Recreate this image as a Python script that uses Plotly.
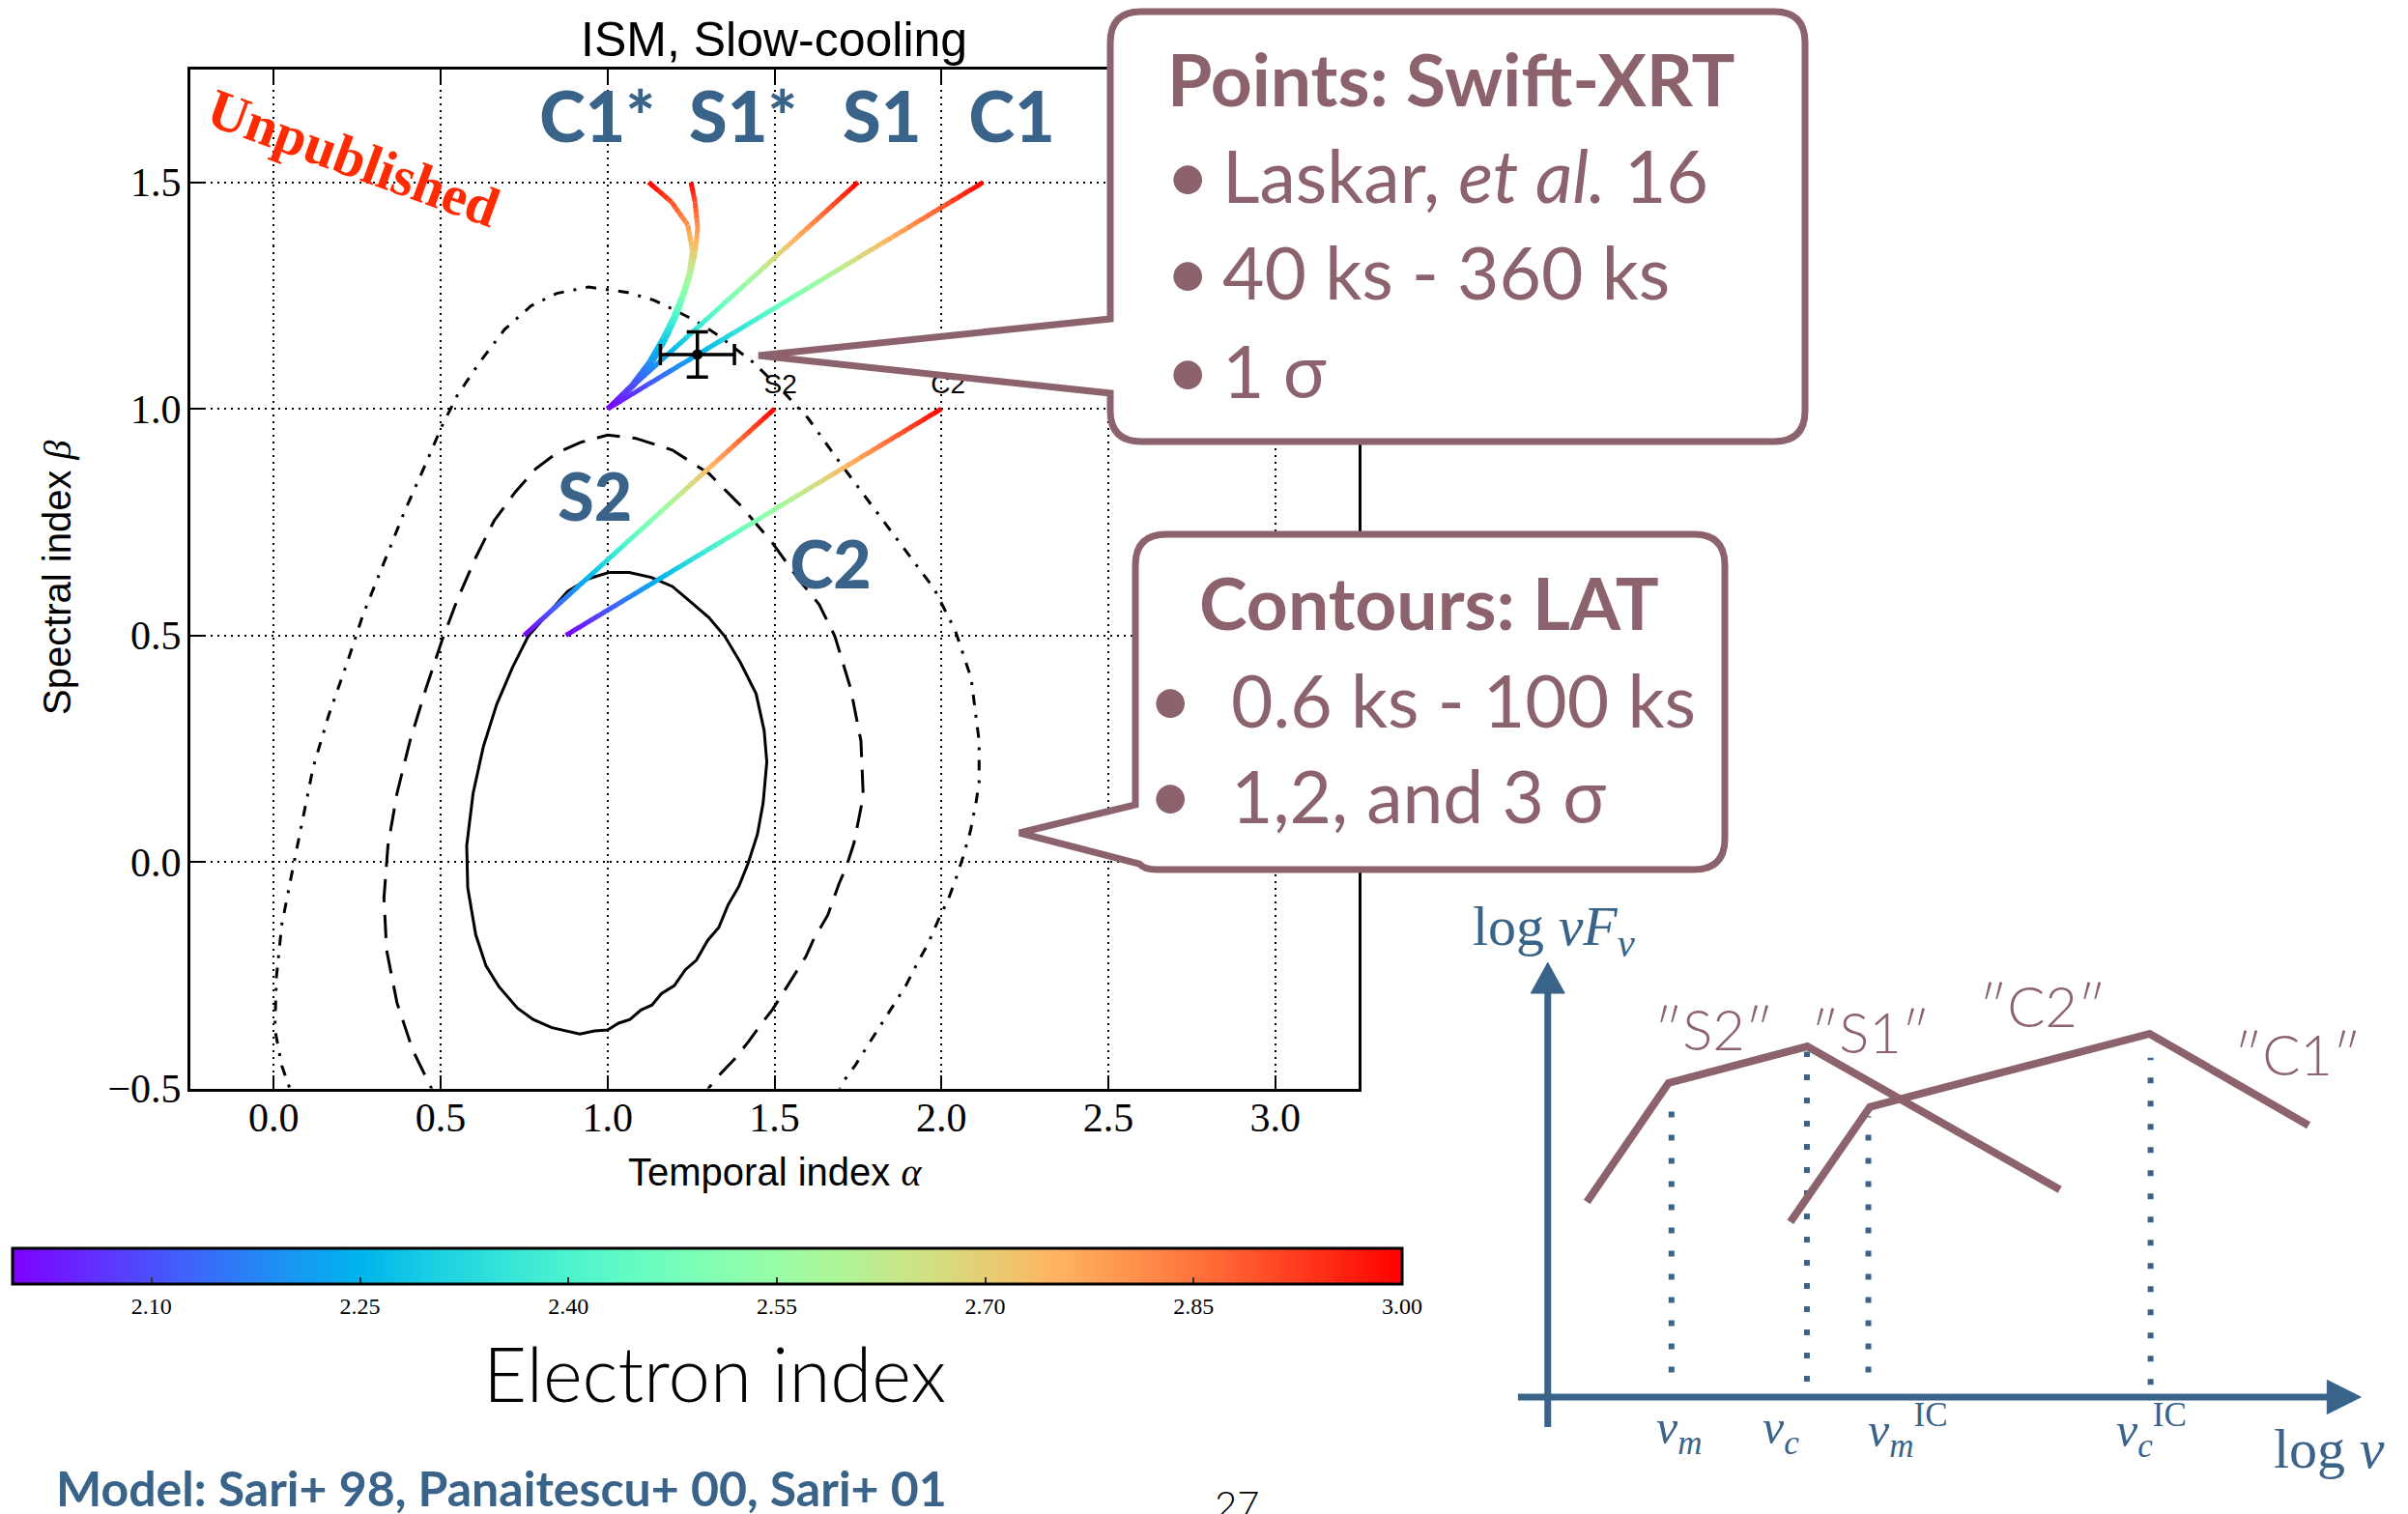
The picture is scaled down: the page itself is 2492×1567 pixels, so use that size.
import math
import plotly.graph_objects as go

W, H = 2492, 1567

# ---------------- data ----------------
# Closure-relation tracks: electron index p -> (temporal index alpha, spectral index beta)
p_line = [2.0, 3.0]
s2_alpha = [0.75, 1.50]
s2_beta = [0.50, 1.00]
c2_alpha = [0.875, 2.00]
c2_beta = [0.50, 1.00]
s1_alpha = [1.00, 1.75]
s1_beta = [1.00, 1.50]
c1_alpha = [1.00, 2.125]
c1_beta = [1.00, 1.50]

p_curve = [2.0, 2.1, 2.2, 2.3, 2.4, 2.5, 2.6, 2.7, 2.8, 2.9, 3.0]
s1s_alpha = [1.000, 1.080, 1.136, 1.175, 1.206, 1.227, 1.248, 1.262, 1.270, 1.262, 1.250]
s1s_beta = [1.000, 1.052, 1.105, 1.155, 1.204, 1.247, 1.296, 1.343, 1.399, 1.456, 1.500]
c1s_alpha = [1.000, 1.072, 1.126, 1.165, 1.198, 1.223, 1.245, 1.254, 1.240, 1.191, 1.123]
c1s_beta = [1.000, 1.052, 1.105, 1.155, 1.204, 1.250, 1.300, 1.350, 1.406, 1.457, 1.500]

# Swift-XRT measurement (1 sigma)
xrt_alpha, xrt_alpha_err = 1.269, 0.111
xrt_beta, xrt_beta_err = 1.120, 0.050

# LAT confidence contours
sig1_alpha = [1.005, 0.943, 0.880, 0.817, 0.762, 0.715, 0.668, 0.628, 0.597, 0.578, 0.581, 0.605,
              0.636, 0.675, 0.730, 0.777, 0.833, 0.917, 0.961, 1.000, 1.033, 1.067, 1.100, 1.133,
              1.161, 1.200, 1.233, 1.266, 1.300, 1.333, 1.361, 1.394, 1.421, 1.449, 1.466, 1.477,
              1.469, 1.445, 1.398, 1.351, 1.304, 1.241, 1.194, 1.131, 1.065, 1.005]
sig1_beta = [0.639, 0.625, 0.597, 0.544, 0.498, 0.429, 0.348, 0.255, 0.151, 0.036, -0.057, -0.161,
             -0.230, -0.276, -0.323, -0.348, -0.366, -0.380, -0.373, -0.371, -0.356, -0.348, -0.327, -0.316,
             -0.291, -0.273, -0.238, -0.217, -0.173, -0.145, -0.095, -0.053, -0.003, 0.061, 0.130, 0.221,
             0.290, 0.371, 0.440, 0.498, 0.539, 0.579, 0.608, 0.628, 0.639, 0.639]

sig2_alpha = [0.495, 0.471, 0.416, 0.369, 0.338, 0.330, 0.342, 0.369, 0.408, 0.456, 0.503, 0.550,
              0.605, 0.660, 0.723, 0.785, 0.848, 0.919, 1.000, 1.084, 1.194, 1.304, 1.398, 1.492,
              1.571, 1.634, 1.681, 1.728, 1.759, 1.766, 1.738, 1.716, 1.693, 1.660, 1.616, 1.594,
              1.555, 1.527, 1.494, 1.460, 1.422, 1.383, 1.338, 1.305, 1.270]
sig2_beta = [-0.542, -0.498, -0.415, -0.311, -0.195, -0.080, 0.036, 0.151, 0.267, 0.383, 0.487, 0.579,
             0.672, 0.753, 0.816, 0.868, 0.903, 0.926, 0.942, 0.935, 0.909, 0.857, 0.787, 0.706,
             0.625, 0.568, 0.498, 0.383, 0.267, 0.145, 0.041, -0.009, -0.049, -0.117, -0.173, -0.209,
             -0.255, -0.288, -0.326, -0.358, -0.397, -0.433, -0.468, -0.497, -0.540]

sig3_alpha = [0.055, 0.047, 0.024, 0.003, 0.008, 0.024, 0.055, 0.086, 0.118, 0.165, 0.220, 0.267,
              0.330, 0.393, 0.456, 0.503, 0.550, 0.613, 0.691, 0.770, 0.848, 0.943, 1.060, 1.138,
              1.201, 1.264, 1.332, 1.439, 1.530, 1.600, 1.697, 1.791, 1.885, 1.979, 2.042, 2.089,
              2.113, 2.113, 2.104, 2.087, 2.065, 2.046, 2.021, 1.991, 1.960, 1.929, 1.893, 1.860,
              1.821, 1.784, 1.743, 1.704, 1.680]
sig3_beta = [-0.542, -0.498, -0.450, -0.369, -0.253, -0.138, -0.022, 0.094, 0.209, 0.325, 0.440, 0.545,
             0.660, 0.776, 0.880, 0.961, 1.030, 1.099, 1.175, 1.227, 1.255, 1.269, 1.257, 1.240,
             1.218, 1.194, 1.162, 1.101, 1.035, 0.980, 0.880, 0.787, 0.695, 0.602, 0.510, 0.406,
             0.267, 0.175, 0.132, 0.068, 0.011, -0.032, -0.082, -0.128, -0.181, -0.222, -0.274, -0.313,
             -0.359, -0.400, -0.448, -0.487, -0.530]

# Axis ticks
x_ticks = [0.0, 0.5, 1.0, 1.5, 2.0, 2.5, 3.0]
y_ticks = [-0.5, 0.0, 0.5, 1.0, 1.5]
cbar_ticks = [2.10, 2.25, 2.40, 2.55, 2.70, 2.85, 3.00]

# Track labels
top_labels = ["C1*", "S1*", "S1", "C1"]
top_label_alpha = [0.969, 1.406, 1.822, 2.211]
top_label_beta = 1.627
mid_labels = ["S2", "C2"]
mid_label_alpha = [0.962, 1.668]
mid_label_beta = [0.790, 0.639]
end_labels = ["S2", "C2"]
end_label_alpha = [1.518, 2.020]
end_label_beta = [1.049, 1.049]

# Schematic spectrum (log nu, log nuFnu; arbitrary units)
spec1_nu = [0.255, 0.786, 1.690, 3.335]
spec1_f = [1.271, 2.045, 2.284, 1.351]
spec2_nu = [1.580, 2.098, 3.920, 4.955]
spec2_f = [1.140, 1.890, 2.366, 1.770]
break_nu = [0.806, 1.688, 2.088, 3.926]
break_top = [1.96, 2.25, 1.83, 2.21]
break_bottom = [0.16, 0.10, 0.16, 0.08]
break_labels = ["<i>ν</i><sub><i>m</i></sub>", "<i>ν</i><sub><i>c</i></sub>",
                "<i>ν</i><sub><i>m</i></sub><sup>IC</sup>", "<i>ν</i><sub><i>c</i></sub><sup>IC</sup>"]
break_label_nu = [0.855, 1.520, 2.340, 3.930]
regime_labels = ["″S2″", "″S1″", "″C2″", "″C1″"]
regime_label_nu = [1.08, 2.10, 3.22, 4.88]
regime_label_f = [2.40, 2.38, 2.55, 2.24]

# ---------------- styling ----------------
BLUE = "#3a6389"
MAUVE = "#8c636d"
SERIF = "Liberation Serif"
SANS = "Liberation Sans"
AV = "Lato"


def rainbow(t):
    t = min(max(t, 0.0), 1.0)
    r = min(1.0, abs(2 * t - 0.5))
    g = math.sin(math.pi * t)
    b = math.cos(math.pi * t / 2)
    return "rgb(%d,%d,%d)" % (round(255 * r), round(255 * g), round(255 * b))


def px(x):
    return x / W


def py(y):
    return 1 - y / H


fig = go.Figure()

# contours
for xs, ys, dash in [(sig3_alpha, sig3_beta, "11px,10px,3px,10px"),
                     (sig2_alpha, sig2_beta, "24px,13px"),
                     (sig1_alpha, sig1_beta, "solid")]:
    fig.add_trace(go.Scatter(x=xs, y=ys, mode="lines",
                             line=dict(color="black", width=3, dash=dash),
                             hoverinfo="skip", showlegend=False))


# colour-graded tracks: each stretch between listed p values is stroked in short pieces
def add_track(ps, xs, ys, pieces):
    for i in range(len(ps) - 1):
        for k in range(pieces):
            f0, f1 = k / pieces, min(1.0, (k + 1.15) / pieces)
            fm = (k + 0.5) / pieces
            x0 = xs[i] + (xs[i + 1] - xs[i]) * f0
            x1 = xs[i] + (xs[i + 1] - xs[i]) * f1
            y0 = ys[i] + (ys[i + 1] - ys[i]) * f0
            y1 = ys[i] + (ys[i + 1] - ys[i]) * f1
            pm = ps[i] + (ps[i + 1] - ps[i]) * fm
            fig.add_trace(go.Scatter(x=[x0, x1], y=[y0, y1], mode="lines",
                                     line=dict(color=rainbow(pm - 2.0), width=5),
                                     hoverinfo="skip", showlegend=False))


add_track(p_line, s2_alpha, s2_beta, 48)
add_track(p_line, c2_alpha, c2_beta, 60)
add_track(p_line, s1_alpha, s1_beta, 48)
add_track(p_line, c1_alpha, c1_beta, 60)
add_track(p_curve, c1s_alpha, c1s_beta, 5)
add_track(p_curve, s1s_alpha, s1s_beta, 5)

# XRT point
fig.add_trace(go.Scatter(
    x=[xrt_alpha], y=[xrt_beta], mode="markers",
    marker=dict(color="black", size=11),
    error_x=dict(type="data", array=[xrt_alpha_err], color="black", thickness=3.5, width=11),
    error_y=dict(type="data", array=[xrt_beta_err], color="black", thickness=3.5, width=11),
    hoverinfo="skip", showlegend=False))

# track labels
fig.add_trace(go.Scatter(x=top_label_alpha, y=[top_label_beta] * 4, mode="text",
                         text=top_labels,
                         textfont=dict(family=AV, size=72, color=BLUE, weight=900),
                         textposition="middle center", hoverinfo="skip", showlegend=False))
fig.add_trace(go.Scatter(x=mid_label_alpha, y=mid_label_beta, mode="text",
                         text=mid_labels,
                         textfont=dict(family=AV, size=68, color=BLUE, weight=900),
                         textposition="middle center", hoverinfo="skip", showlegend=False))
fig.add_trace(go.Scatter(x=end_label_alpha, y=end_label_beta, mode="text",
                         text=end_labels, textfont=dict(family=SANS, size=28, color="black"),
                         textposition="middle center", hoverinfo="skip", showlegend=False))

# colour bar carrier (points lie outside the visible range)
fig.add_trace(go.Scatter(
    x=[-5, -5], y=[-5, -5], mode="markers",
    marker=dict(color=[2.0, 3.0], cmin=2.0, cmax=3.0, size=1,
                colorscale=[[i / 20, rainbow(i / 20)] for i in range(21)],
                showscale=True,
                colorbar=dict(orientation="h", x=px(732), xanchor="center", xpad=0,
                              y=py(1292), yanchor="top", ypad=0,
                              lenmode="pixels", len=1438, thicknessmode="pixels", thickness=37,
                              outlinecolor="black", outlinewidth=3,
                              tickmode="array", tickvals=cbar_ticks,
                              ticktext=["%.2f" % v for v in cbar_ticks],
                              ticks="inside", ticklen=8, tickwidth=1.5, tickcolor="#333",
                              tickfont=dict(family=SERIF, size=24, color="black"))),
    hoverinfo="skip", showlegend=False))

# ---------------- schematic spectrum ----------------
for nu, top, bot in zip(break_nu, break_top, break_bottom):
    fig.add_trace(go.Scatter(x=[nu, nu], y=[bot, top], mode="lines", xaxis="x2", yaxis="y2",
                             line=dict(color=BLUE, width=6, dash="6px,18px"),
                             hoverinfo="skip", showlegend=False))
for xs, ys in [(spec1_nu, spec1_f), (spec2_nu, spec2_f)]:
    fig.add_trace(go.Scatter(x=xs, y=ys, mode="lines", xaxis="x2", yaxis="y2",
                             line=dict(color=MAUVE, width=8),
                             hoverinfo="skip", showlegend=False))
# axes with arrow heads
fig.add_trace(go.Scatter(x=[0, 0], y=[-0.196, 2.66], mode="lines", xaxis="x2", yaxis="y2",
                         line=dict(color=BLUE, width=7), hoverinfo="skip", showlegend=False))
fig.add_trace(go.Scatter(x=[-0.194, 5.10], y=[0, 0], mode="lines", xaxis="x2", yaxis="y2",
                         line=dict(color=BLUE, width=7), hoverinfo="skip", showlegend=False))
fig.add_trace(go.Scatter(x=[-0.11, 0.11, 0, -0.11], y=[2.63, 2.63, 2.83, 2.63], mode="lines",
                         fill="toself", fillcolor=BLUE, xaxis="x2", yaxis="y2",
                         line=dict(color=BLUE, width=1), hoverinfo="skip", showlegend=False))
fig.add_trace(go.Scatter(x=[5.076, 5.076, 5.296, 5.076], y=[-0.11, 0.11, 0, -0.11], mode="lines",
                         fill="toself", fillcolor=BLUE, xaxis="x2", yaxis="y2",
                         line=dict(color=BLUE, width=1), hoverinfo="skip", showlegend=False))

# ---------------- annotations ----------------
ann = []


def note(text, x, y, size, color="black", family=SANS, xanchor="center", yanchor="middle",
         ref="paper", angle=0, weight=None):
    font = dict(family=family, size=size, color=color)
    if weight is not None:
        font["weight"] = weight
    xr, yr = ("paper", "paper") if ref == "paper" else ("x2", "y2")
    ann.append(dict(text=text, x=x, y=y, xref=xr, yref=yr, showarrow=False,
                    xanchor=xanchor, yanchor=yanchor, font=font, textangle=angle))


note("ISM, Slow-cooling", px(801), py(41), 50)
note("Temporal index <span style='font-family:Liberation Serif'><i>α</i></span>", px(802), py(1213), 40)
note("Spectral index <span style='font-family:Liberation Serif'><i>β</i></span>", px(59), py(598), 40, angle=-90)
note("<b>Unpublished</b>", px(366), py(163), 58, color="#ff2a00", family=SERIF, angle=20)
note("Electron index", px(739), py(1421), 78, family=AV, weight=300)
note("<b>Model: Sari+ 98, Panaitescu+ 00, Sari+ 01</b>", px(56), py(1540), 50, color=BLUE,
     family=AV, xanchor="left")
note("27", px(1280), py(1557), 40, family=AV, weight=300)

# callout texts
note("<b>Points: Swift-XRT</b>", px(1502), py(81), 75, color=MAUVE, family=AV)
for txt, yy in [("Laskar, <i>et al.</i> 16", 181), ("40 ks - 360 ks", 281), ("1 σ", 383)]:
    note("•", px(1229), py(yy - 2), 80, color=MAUVE, family=AV)
    note(txt, px(1263), py(yy), 75, color=MAUVE, family=AV, xanchor="left")
note("<b>Contours: LAT</b>", px(1479), py(623), 75, color=MAUVE, family=AV)
for txt, yy in [("0.6 ks - 100 ks", 724), ("1,2, and 3 σ", 823)]:
    note("•", px(1211), py(yy - 3), 80, color=MAUVE, family=AV)
    note(txt, px(1272), py(yy), 75, color=MAUVE, family=AV, xanchor="left")

# schematic labels
note("log <i>νF</i><sub><i>ν</i></sub>", -0.50, 3.04, 58, color=BLUE, family=SERIF, xanchor="left", ref="s")
note("log <i>ν</i>", 4.715, -0.34, 58, color=BLUE, family=SERIF, xanchor="left", ref="s")
for t, nu in zip(break_labels, break_label_nu):
    note(t, nu, -0.22, 50, color=BLUE, family=SERIF, ref="s")
for t, nu, f in zip(regime_labels, regime_label_nu, regime_label_f):
    note(t, nu, f, 58, color=MAUVE, family=AV, ref="s", weight=300)


# ---------------- callout bubbles ----------------
def bubble(L, T, R, B, r, pointer):
    pts = [("M", (L + r, T)), ("L", (R - r, T)), ("Q", (R, T), (R, T + r)), ("L", (R, B - r)),
           ("Q", (R, B), (R - r, B))]
    pts += pointer
    path = ""
    for item in pts:
        cmd = item[0]
        path += cmd + " " + " ".join("%.5f,%.5f" % (px(a), py(b)) for a, b in item[1:]) + " "
    return path + "Z"


b1 = bubble(1149, 12, 1868, 457, 32,
            [("L", (1149 + 32, 457)), ("Q", (1149, 457), (1149, 457 - 32)),
             ("L", (1149, 407)), ("L", (785, 368)), ("L", (1149, 330)),
             ("L", (1149, 12 + 32)), ("Q", (1149, 12), (1149 + 32, 12))])
b2 = bubble(1175, 553, 1785, 900, 32,
            [("L", (1175 + 22, 900)), ("Q", (1175 + 9, 900), (1175 + 4, 894)),
             ("L", (1055, 862)), ("L", (1175, 833)),
             ("L", (1175, 553 + 32)), ("Q", (1175, 553), (1175 + 32, 553))])
shapes = [dict(type="path", path=p, xref="paper", yref="paper", layer="above",
               line=dict(color=MAUVE, width=7), fillcolor="white") for p in (b1, b2)]

# ---------------- layout ----------------
axis_common = dict(showgrid=True, gridcolor="black", gridwidth=1.5, griddash="2px,5px",
                   zeroline=False, showline=True, linecolor="black", linewidth=3, mirror="ticks",
                   ticks="inside", ticklen=14, tickwidth=2, tickcolor="black",
                   tickfont=dict(family=SERIF, size=42, color="black"), tickmode="array")

fig.update_layout(
    width=W, height=H, autosize=False,
    margin=dict(l=0, r=0, t=0, b=0, pad=0, autoexpand=False),
    paper_bgcolor="white", plot_bgcolor="white", showlegend=False,
    xaxis=dict(domain=[px(197), px(1406)], range=[-0.25, 3.25], anchor="y",
               tickvals=x_ticks, ticktext=["%.1f" % v for v in x_ticks],
               ticklabelstandoff=-9, **axis_common),
    yaxis=dict(domain=[py(1126.5), py(71.5)], range=[-0.5, 1.75], anchor="x",
               tickvals=y_ticks, ticktext=[("%.1f" % v).replace("-", "−") for v in y_ticks],
               ticklabelstandoff=-2, **axis_common),
    xaxis2=dict(domain=[px(1522.3), px(2475.7)], range=[-0.5, 5.5], visible=False, anchor="y2"),
    yaxis2=dict(domain=[py(1525.4), py(889.8)], range=[-0.5, 3.5], visible=False, anchor="x2"),
    annotations=ann, shapes=shapes,
)

fig.write_html("out.html")
